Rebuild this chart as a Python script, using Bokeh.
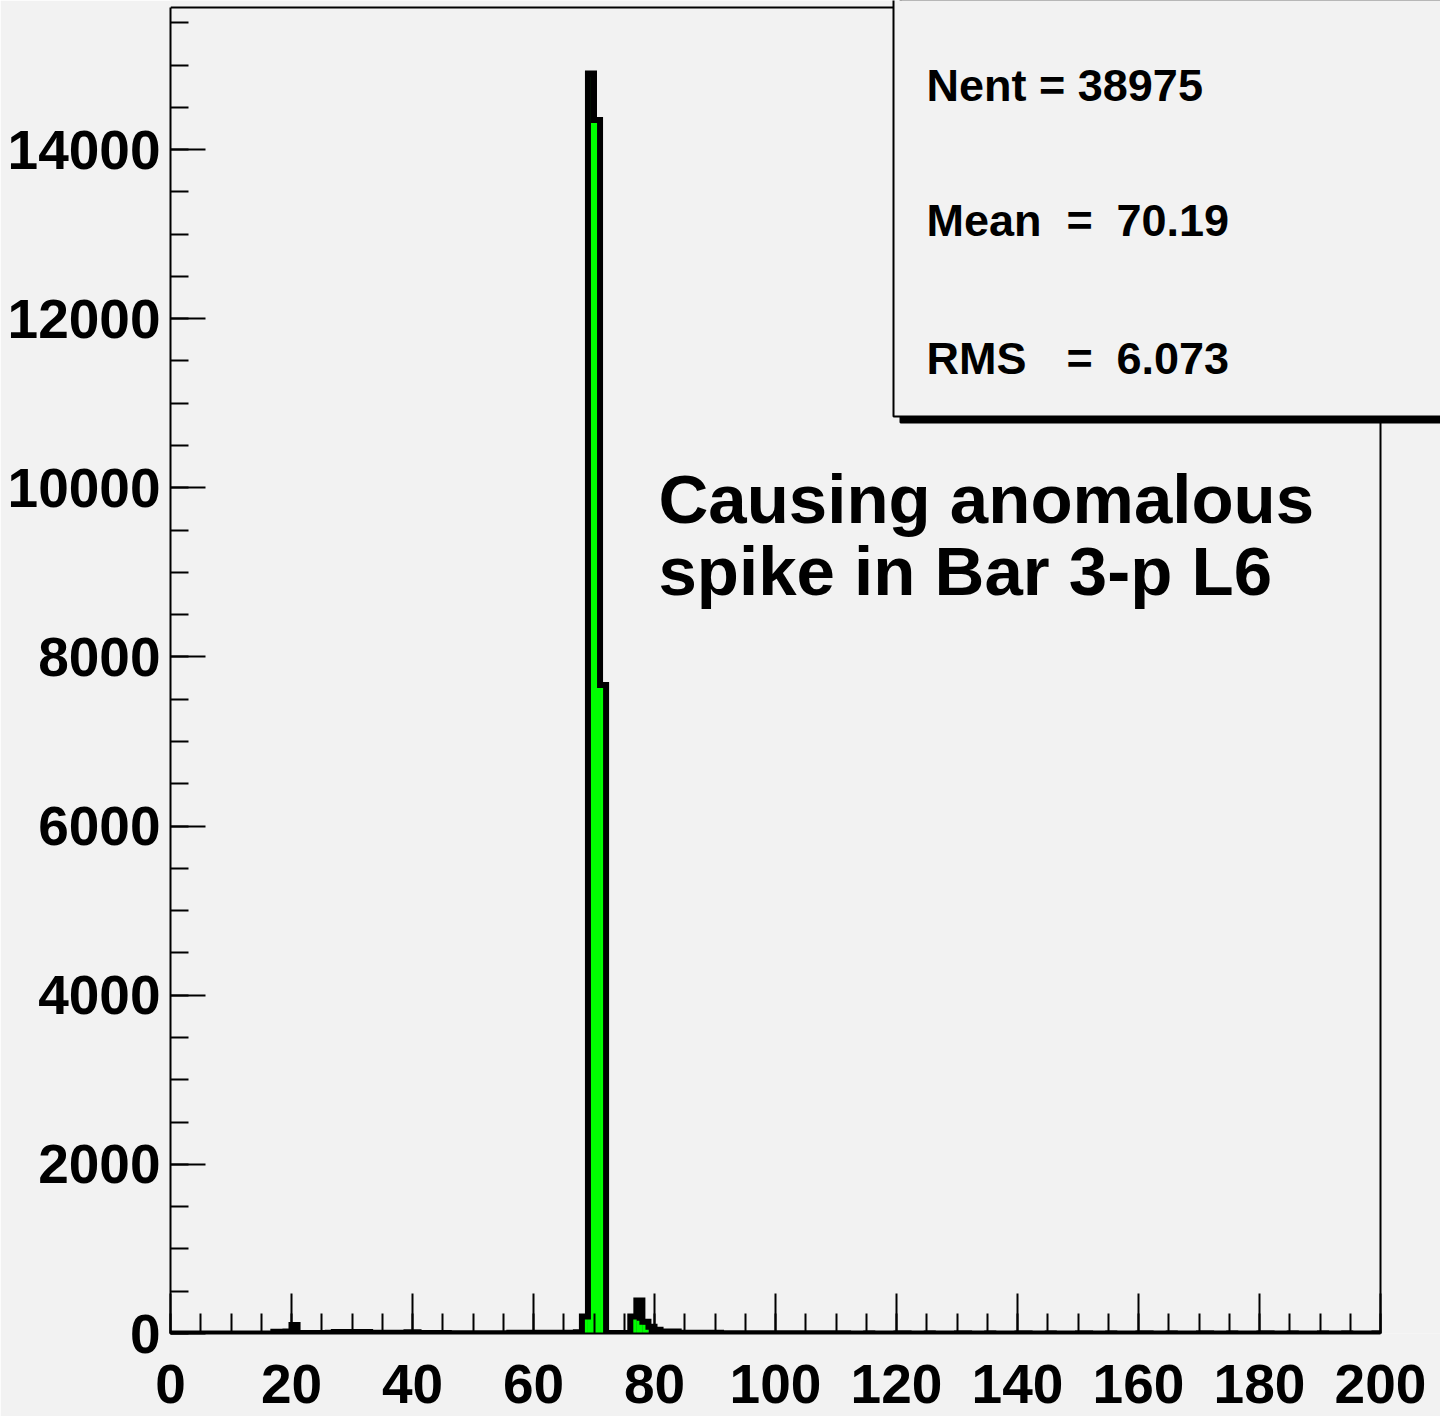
import numpy as np
from bokeh.plotting import figure
from bokeh.models import (Range1d, FixedTicker, NumeralTickFormatter, Label,
                          ColumnDataSource)
from bokeh.embed import file_html
from bokeh.resources import INLINE

# ---------------- data ----------------
x_low = 0
x_high = 200
n_bins = 200

# all entries (black histogram), one value per unit-wide bin 0..199
counts_all = (
    [0] * 17 +                      # 0-16
    [20, 20, 25, 100] +             # 17-20
    [5, 5, 5, 5, 5] +               # 21-25
    [10] +                          # 26
    [18, 18, 18, 18, 18, 18] +      # 27-32
    [8, 8, 8, 8, 8, 8] +            # 33-38
    [15, 15] +                      # 39-40
    [5, 5, 5, 5, 5] +               # 41-45
    [3] * 10 +                      # 46-55
    [8] * 7 +                       # 56-62
    [10] * 4 +                      # 63-66
    [15, 200, 14900, 14350, 7670] + # 67-71
    [5, 5, 5, 5] +                  # 72-75
    [200, 390, 140, 80, 45] +       # 76-80
    [25, 25, 25] +                  # 81-83
    [10] * 7 +                      # 84-90
    [4] * 20 +                      # 91-110
    [2, 0, 1, 0, 2, 0, 0, 1, 0, 2] * 8 +   # 111-190
    [1, 0, 0, 2, 0, 0, 1, 0, 2]     # 191-199
)

# green (selected) histogram
counts_green = [0] * 200
green_bins = [68, 69, 70, 71, 76, 77, 78]
green_vals = [200, 14900, 14350, 7670, 200, 150, 110]
for b, v in zip(green_bins, green_vals):
    counts_green[b] = v

y_major = [0, 2000, 4000, 6000, 8000, 10000, 12000, 14000]
y_minor = list(range(0, 15501, 500))
x_major = [0, 20, 40, 60, 80, 100, 120, 140, 160, 180, 200]
x_minor = list(range(0, 201, 5))
y_top = 15680

stats_lines = [("Nent = 38975", None, None),
               ("Mean", "=", "70.19"),
               ("RMS", "=", "6.073")]
note_lines = ["Causing anomalous", "spike in Bar 3-p L6"]

# ---------------- figure ----------------
BG = "#f2f2f2"
FONT = "Liberation Sans"

# the plotting frame spans to the window's right/top edge so that the
# stats box may overhang the histogram frame (drawn separately below)
x_view_max = x_high * 1270.0 / 1210.0
y_view_max = y_top * 1333.0 / 1326.0

p = figure(width=1440, height=1416, output_backend="svg", toolbar_location=None,
           x_range=Range1d(x_low, x_view_max), y_range=Range1d(0, y_view_max),
           min_border_left=170, min_border_right=0, min_border_top=0,
           min_border_bottom=83)
p.background_fill_color = BG
p.border_fill_color = BG
p.outline_line_color = None
p.xgrid.grid_line_color = None
p.ygrid.grid_line_color = None

edges = np.linspace(x_low, x_high, n_bins + 1)
src = ColumnDataSource(dict(left=edges[:-1], right=edges[1:],
                            top_all=counts_all, top_green=counts_green))

# histogram frame top and right lines
p.segment(x0=[x_low, x_high], y0=[y_top, 0], x1=[x_high, x_high],
          y1=[y_top, y_top], line_color="black", line_width=2)

# black filled histogram, green histogram on top, black outline
p.quad(left="left", right="right", bottom=0, top="top_all", source=src,
       fill_color="black", line_color=None)
p.quad(left="left", right="right", bottom=0, top="top_green", source=src,
       fill_color="#00ff00", line_color=None)
ox = np.repeat(edges, 2)[1:-1]
oy = np.repeat(np.array(counts_all, dtype=float), 2)
p.line(ox, oy, line_color="black", line_width=6, line_join="miter")

# axes
for ax in (p.xaxis[0], p.yaxis[0]):
    ax.axis_line_color = "black"
    ax.axis_line_width = 2
    ax.major_tick_line_width = 2
    ax.minor_tick_line_width = 2
    ax.major_tick_out = 0
    ax.minor_tick_out = 0
    ax.major_label_text_font = FONT
    ax.major_label_text_font_style = "bold"
    ax.major_label_text_font_size = "55px"
    ax.major_label_text_color = "black"

p.yaxis.ticker = FixedTicker(ticks=y_major, minor_ticks=y_minor)
p.yaxis.formatter = NumeralTickFormatter(format="0")
p.yaxis.major_tick_in = 35
p.yaxis.minor_tick_in = 18
p.yaxis.major_label_standoff = 10
p.yaxis.bounds = (0, y_top)

p.xaxis.ticker = FixedTicker(ticks=x_major, minor_ticks=x_minor)
p.xaxis.formatter = NumeralTickFormatter(format="0")
p.xaxis.major_tick_in = 40
p.xaxis.minor_tick_in = 20
p.xaxis.major_label_standoff = 31
p.xaxis.bounds = (x_low, x_high)

# annotation text
for i, t in enumerate(note_lines):
    p.add_layout(Label(x=80.66, y=[9862, 9010][i], text=t, text_font=FONT,
                       text_font_style="bold", text_font_size="69px",
                       text_color="black", text_baseline="alphabetic",
                       text_align="left"))

# stats box with shadow (screen units relative to frame bottom-left)
box_kw = dict(x_units="screen", y_units="screen", text=" ",
              text_font_size="1px", anchor="bottom_left",
              padding=290, border_line_width=2)
p.add_layout(Label(x=730, y=911, background_fill_color="black",
                   border_line_color="black", **box_kw))
p.add_layout(Label(x=723, y=917, background_fill_color=BG,
                   border_line_color="black", **box_kw))

base_y = [1248, 1113, 975]
for (name, eq, val), yy in zip(stats_lines, base_y):
    kw = dict(x_units="screen", y_units="screen", text_font=FONT,
              text_font_style="bold", text_font_size="45px",
              text_color="black", text_baseline="alphabetic",
              text_align="left")
    p.add_layout(Label(x=756, y=yy, text=name, **kw))
    if eq is not None:
        p.add_layout(Label(x=896, y=yy, text=eq, **kw))
        p.add_layout(Label(x=946, y=yy, text=val, **kw))

open("out.html", "w").write(file_html(p, INLINE))
